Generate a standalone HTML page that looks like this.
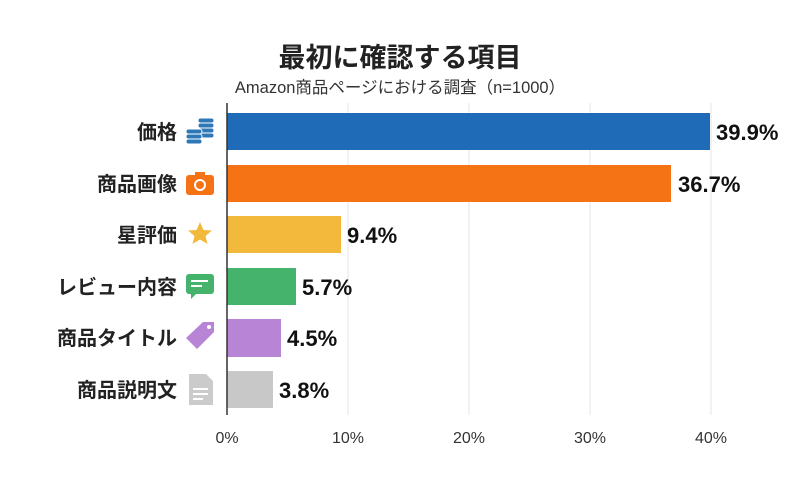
<!DOCTYPE html>
<html><head><meta charset="utf-8"><style>
body{margin:0;background:#fff}
svg text{font-family:"Liberation Sans","Noto Sans CJK JP",sans-serif}
</style></head><body>
<svg width="800" height="493" viewBox="0 0 800 493" xmlns="http://www.w3.org/2000/svg">
<rect width="800" height="493" fill="#fff"/>
<text x="400" y="67" font-size="27" font-weight="bold" text-anchor="middle" fill="#222">最初に確認する項目</text>
<text x="400" y="93" font-size="16.5" text-anchor="middle" fill="#333">Amazon商品ページにおける調査（n=1000）</text>
<g stroke="#e6e6e6" stroke-width="1">
<line x1="348" y1="103" x2="348" y2="415"/><line x1="469" y1="103" x2="469" y2="415"/><line x1="590" y1="103" x2="590" y2="415"/><line x1="711" y1="103" x2="711" y2="415"/>
</g>
<rect x="227" y="113" width="483" height="37" fill="#1f6bb8"/>
<rect x="227" y="165" width="444" height="37" fill="#f57314"/>
<rect x="227" y="216" width="114" height="37" fill="#f2b93c"/>
<rect x="227" y="268" width="69" height="37" fill="#45b36b"/>
<rect x="227" y="319" width="54" height="38" fill="#b884d6"/>
<rect x="227" y="371" width="46" height="37" fill="#c8c8c8"/>
<line x1="227" y1="103" x2="227" y2="415" stroke="#333" stroke-width="1.5"/>
<g font-size="22" font-weight="bold" fill="#111">
<text x="716" y="140">39.9%</text>
<text x="678" y="192">36.7%</text>
<text x="347" y="243">9.4%</text>
<text x="302" y="295">5.7%</text>
<text x="287" y="346">4.5%</text>
<text x="279" y="398">3.8%</text>
</g>
<g font-size="20" font-weight="bold" fill="#222" text-anchor="end">
<text x="177" y="139">価格</text>
<text x="177" y="191">商品画像</text>
<text x="177" y="242">星評価</text>
<text x="177" y="294">レビュー内容</text>
<text x="177" y="345">商品タイトル</text>
<text x="177" y="397">商品説明文</text>
</g>
<g font-size="16" fill="#333" text-anchor="middle">
<text x="227" y="443">0%</text><text x="348" y="443">10%</text><text x="469" y="443">20%</text><text x="590" y="443">30%</text><text x="711" y="443">40%</text>
</g>
<g fill="#2e78b8" stroke="#fff" stroke-width="1">
<rect x="198" y="118" width="16" height="5" rx="2.5"/><rect x="198" y="123" width="16" height="5" rx="2.5"/><rect x="198" y="128" width="16" height="5" rx="2.5"/><rect x="198" y="133" width="16" height="5" rx="2.5"/>
<rect x="186" y="129" width="16" height="5" rx="2.5"/><rect x="186" y="134" width="16" height="5" rx="2.5"/><rect x="186" y="139" width="16" height="5" rx="2.5"/>
</g>
<rect x="186" y="175" width="28" height="20" rx="3" fill="#f57314"/><rect x="195" y="172" width="10" height="5" fill="#f57314"/>
<circle cx="200" cy="185" r="5" fill="none" stroke="#fff" stroke-width="2"/>
<polygon points="200,222 203.5,230 212,230.5 205.5,236 207.5,244 200,239.5 192.5,244 194.5,236 188,230.5 196.5,230" fill="#f2b93c"/>
<rect x="186" y="274" width="28" height="20" rx="3" fill="#45b36b"/><polygon points="191,293 197,293 191,299" fill="#45b36b"/>
<rect x="191" y="280" width="17" height="2" fill="#fff"/><rect x="191" y="285" width="11" height="2" fill="#fff"/>
<polygon points="186,338 203,322 214,322 214,332 197,349" fill="#b884d6"/><circle cx="209" cy="327" r="2" fill="#fff"/>
<polygon points="189,374 206,374 213,381 213,405 189,405" fill="#cbcbcb"/>
<rect x="193" y="388" width="15" height="2" fill="#fff"/><rect x="193" y="393" width="15" height="2" fill="#fff"/><rect x="193" y="398" width="10" height="2" fill="#fff"/>
</svg>
</body></html>
